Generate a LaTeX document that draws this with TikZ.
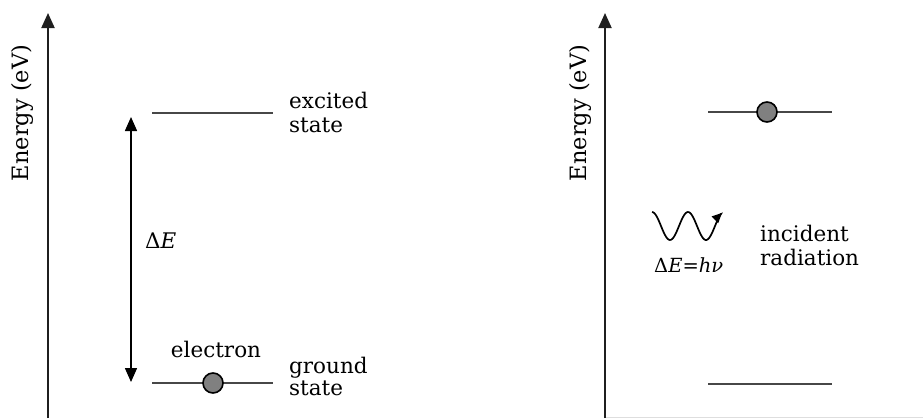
\documentclass[tikz,border=0pt]{standalone}
\usepackage{fontspec}
\setmainfont{DejaVu Serif}
\usetikzlibrary{arrows.meta}
\begin{document}
\begin{tikzpicture}[x=1pt,y=-1pt,
  axis/.style={line width=2pt,color=black!88,-{Triangle[width=13pt,length=15pt]}},
  level/.style={line width=2pt,color=black!72},
  electronball/.style={circle,fill=black!50,draw=black,line width=1.6pt,minimum size=20pt,inner sep=0pt},
  lbl/.style={font=\fontsize{21.5}{24}\selectfont,inner sep=0pt,align=left},
  gap/.style={line width=1.5pt,{Triangle[width=12pt,length=14pt]}-{Triangle[width=12pt,length=14pt]}}
]
\useasboundingbox (0,0) rectangle (923,418);
% faint bottom border of right panel
\draw[black!13,line width=1pt] (606,417.5) -- (923,417.5);

% left panel
\coordinate (la0) at (48,418);
\coordinate (la1) at (48,13);
\draw[axis] (la0) -- (la1);
\node[lbl,rotate=90,font=\fontsize{22.5}{24}\selectfont] (lE) at (22,113) {Energy (eV)};

\coordinate (ex0) at (152,113);
\coordinate (ex1) at (273,113);
\draw[level] (ex0) -- (ex1);
\node[lbl,anchor=base west] (exlbl) at (289,132) {excited\\state};

\coordinate (gr0) at (152,383);
\coordinate (gr1) at (273,383);
\draw[level] (gr0) -- (gr1);
\node[electronball] (el1) at (213,383) {};
\node[lbl,anchor=base] (ellbl) at (216,357) {electron};
\node[lbl,anchor=base west,font=\fontsize{21.5}{22}\selectfont] (grlbl) at (289,395) {ground\\state};

\coordinate (d0) at (131,117);
\coordinate (d1) at (131,382);
\draw[gap] (d0) -- (d1);
\node[lbl,anchor=base west] (dE) at (145,248) {Δ\textit{E}};

% right panel
\coordinate (ra0) at (605,418);
\coordinate (ra1) at (605,13);
\draw[axis] (ra0) -- (ra1);
\node[lbl,rotate=90,font=\fontsize{22.5}{24}\selectfont] (rE) at (580,113) {Energy (eV)};

\coordinate (rx0) at (708,112);
\coordinate (rx1) at (832,112);
\draw[level] (rx0) -- (rx1);
\node[electronball] (el2) at (767,112) {};

\coordinate (rg0) at (708,384);
\coordinate (rg1) at (832,384);
\draw[level] (rg0) -- (rg1);

% incident photon wave
\draw[line width=1.7pt,-{Triangle[width=9pt,length=10pt]},smooth,samples=60]
  plot[domain=0:70] ({652+\x},{226-14*cos(10*\x)});
\node[lbl,anchor=base west,font=\fontsize{19.5}{20}\selectfont] (hv) at (654,272) {Δ\textit{E}=\textit{hν}};
\node[lbl,anchor=base west] (inc) at (760,265) {incident\\radiation};
\end{tikzpicture}
\end{document}
